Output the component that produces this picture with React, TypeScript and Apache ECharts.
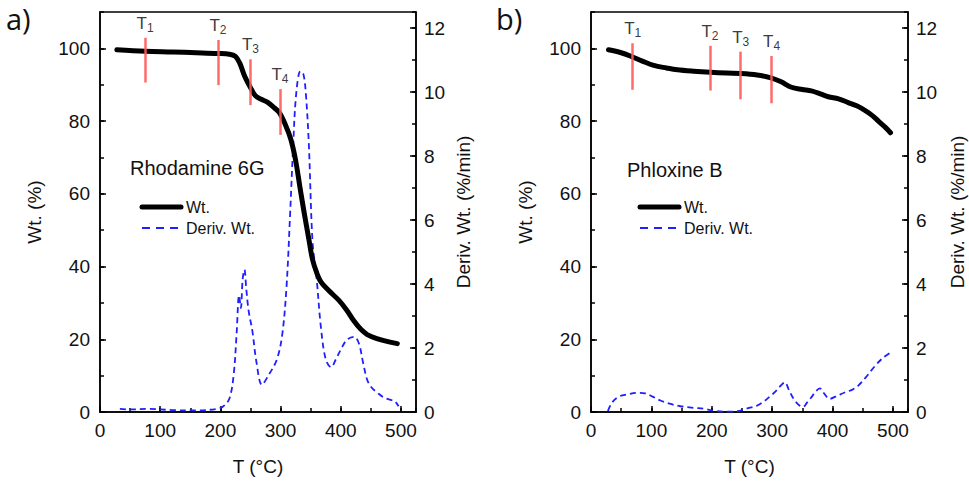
import React, { useEffect, useRef } from "react";
import * as echarts from "echarts";

// ---- data (T in °C) ----
const rhodamineWt: [number, number][] = [
  [28, 99.6], [75, 99.2], [120, 99.0], [160, 98.8], [196, 98.6], [215, 98.4], [225, 97.8],
  [232, 96.0], [240, 92.5], [250, 89.2], [258, 87.0], [268, 86.0], [278, 85.2], [290, 83.6],
  [298, 82.3], [308, 79.0], [317, 75.0], [325, 69.2], [332, 62.0], [339, 55.0], [347, 47.5],
  [353, 42.0], [360, 38.3], [367, 35.8], [380, 33.4], [397, 30.7], [410, 28.0], [422, 25.0],
  [433, 22.8], [444, 21.3], [460, 20.2], [480, 19.3], [494, 18.8],
];
const rhodamineDeriv: [number, number][] = [
  [33, 0.1], [50, 0.08], [80, 0.1], [120, 0.06], [160, 0.05], [195, 0.1], [205, 0.18],
  [215, 0.42], [222, 1.15], [227, 2.45], [231, 3.65], [234, 3.25], [237, 4.15], [240, 4.45],
  [243, 3.85], [247, 3.15], [253, 2.55], [260, 1.55], [269, 0.85], [280, 1.15], [294, 1.65],
  [303, 2.45], [310, 3.95], [316, 6.25], [321, 8.35], [326, 9.95], [333, 10.65], [338, 10.55],
  [342, 9.95], [347, 8.35], [353, 5.35], [360, 4.15], [367, 2.65], [375, 1.65], [384, 1.4],
  [392, 1.65], [400, 1.95], [410, 2.25], [422, 2.35], [430, 2.15], [437, 1.55], [444, 1.0],
  [452, 0.75], [461, 0.6], [472, 0.45], [483, 0.38], [490, 0.33], [496, 0.18],
];
const phloxineWt: [number, number][] = [
  [29, 99.6], [50, 98.8], [68, 97.7], [85, 96.5], [104, 95.3], [125, 94.6], [143, 94.1],
  [170, 93.7], [198, 93.4], [225, 93.2], [248, 93.1], [275, 92.7], [298, 91.9], [315, 90.8],
  [332, 89.3], [350, 88.7], [365, 88.3], [380, 87.5], [393, 86.7], [410, 86.1], [426, 85.1],
  [440, 84.2], [453, 83.0], [466, 81.5], [476, 80.0], [488, 78.2], [496, 76.8],
];
const phloxineDeriv: [number, number][] = [
  [28, 0.03], [35, 0.3], [46, 0.48], [60, 0.55], [76, 0.6], [90, 0.58], [102, 0.48],
  [115, 0.36], [130, 0.26], [148, 0.18], [170, 0.13], [187, 0.1], [204, 0.04], [220, 0.01],
  [240, 0.02], [260, 0.12], [275, 0.2], [287, 0.34], [297, 0.5], [304, 0.61], [314, 0.82],
  [321, 0.93], [328, 0.68], [335, 0.43], [343, 0.24], [351, 0.16], [358, 0.3], [365, 0.46],
  [372, 0.64], [379, 0.74], [386, 0.58], [395, 0.41], [405, 0.48], [420, 0.61], [433, 0.7],
  [443, 0.83], [455, 1.08], [470, 1.43], [484, 1.7], [496, 1.86],
];
// onset markers: subscript, temperature, top and bottom of the red bar (Wt. %)
const rhodamineMarkers = [
  { sub: "1", T: 75, top: 102.9, bottom: 90.6 },
  { sub: "2", T: 196, top: 102.3, bottom: 89.9 },
  { sub: "3", T: 250, top: 97.0, bottom: 84.4 },
  { sub: "4", T: 299, top: 88.8, bottom: 76.2 },
];
const phloxineMarkers = [
  { sub: "1", T: 69, top: 101.4, bottom: 88.6 },
  { sub: "2", T: 197, top: 100.7, bottom: 88.4 },
  { sub: "3", T: 248, top: 99.1, bottom: 86.0 },
  { sub: "4", T: 299, top: 97.9, bottom: 84.9 },
];
const seriesNames = ["Wt.", "Deriv. Wt."];
const panelLetters = ["a)", "b)"];
const sampleNames = ["Rhodamine 6G", "Phloxine B"];

const FONT = "Liberation Sans, Arial, Helvetica, sans-serif";
const WT_COLOR = "#000";
const DERIV_COLOR = "#1f1fff";
const DERIV_DASH = [6, 4];

const App: React.FC = () => {
  const ref = useRef<HTMLDivElement>(null);
  useEffect(() => {
    if (!ref.current) return;
    const chart = echarts.init(ref.current, undefined, { renderer: "svg" });

    const gridRects = [
      { left: 100, top: 12, width: 316, height: 400 },
      { left: 591, top: 12, width: 317, height: 400 },
    ];
    const grids: any[] = [];
    gridRects.forEach((r) =>
      grids.push({ ...r, show: true, borderColor: "#000", borderWidth: 1.5, backgroundColor: "transparent", containLabel: false })
    );
    gridRects.forEach((r) => grids.push({ ...r, show: false, containLabel: false }));

    const black = "#000";
    const mainX = (g: number) => ({
      type: "value", gridIndex: g, min: 0, max: 525, interval: 100, position: "bottom",
      axisLine: { onZero: false, lineStyle: { color: black, width: 1.5 } },
      axisTick: { inside: true, length: 6, lineStyle: { color: black, width: 1.5 } },
      axisLabel: { color: "#111", fontSize: 19, fontFamily: FONT, margin: 9, showMaxLabel: false },
      splitLine: { show: false },
      name: "T (°C)", nameLocation: "middle", nameGap: 45,
      nameTextStyle: { color: "#111", fontSize: 19, fontFamily: FONT },
    });
    const minorX = (g: number) => ({
      type: "value", gridIndex: g, min: 0, max: 525, interval: 50, position: "bottom",
      axisLine: { show: false, onZero: false },
      axisTick: { inside: true, length: 4, lineStyle: { color: black, width: 1.5 } },
      axisLabel: { show: false }, splitLine: { show: false },
    });
    const leftY = (g: number, interval: number, len: number, labels: boolean) => ({
      type: "value", gridIndex: g, min: 0, max: 110, interval, position: "left",
      axisLine: { show: labels, onZero: false, lineStyle: { color: black, width: 1.5 } },
      axisTick: { inside: true, length: len, lineStyle: { color: black, width: 1.5 } },
      axisLabel: { show: labels, color: "#111", fontSize: 19, fontFamily: FONT, margin: 10, showMaxLabel: false },
      splitLine: { show: false },
      ...(labels
        ? { name: "Wt. (%)", nameLocation: "middle", nameGap: 56, nameRotate: 90,
            nameTextStyle: { color: "#111", fontSize: 19, fontFamily: FONT } }
        : {}),
    });
    const rightY = (g: number, interval: number, len: number, labels: boolean, gap: number) => ({
      type: "value", gridIndex: g, min: 0, max: 12.5, interval, position: "right",
      axisLine: { show: labels, onZero: false, lineStyle: { color: black, width: 1.5 } },
      axisTick: { inside: true, length: len, lineStyle: { color: black, width: 1.5 } },
      axisLabel: { show: labels, color: "#111", fontSize: 19, fontFamily: FONT, margin: 8, showMaxLabel: false },
      splitLine: { show: false },
      ...(labels
        ? { name: "Deriv. Wt. (%/min)", nameLocation: "middle", nameGap: gap, nameRotate: 90,
            nameTextStyle: { color: "#111", fontSize: 19, fontFamily: FONT } }
        : {}),
    });

    const xAxis = [mainX(0), mainX(1), minorX(2), minorX(3)];
    const yAxis = [
      leftY(0, 20, 6, true), rightY(0, 2, 6, true, 38),
      leftY(1, 20, 6, true), rightY(1, 2, 6, true, 40),
      leftY(2, 10, 4, false), rightY(2, 1, 4, false, 0),
      leftY(3, 10, 4, false), rightY(3, 1, 4, false, 0),
    ];

    const markLine = (markers: typeof rhodamineMarkers) => ({
      silent: true,
      symbol: ["none", "none"],
      animation: false,
      lineStyle: { color: "#ff5b5b", width: 2.5, type: "solid", opacity: 0.9 },
      label: {
        show: true, position: "start", distance: 4,
        formatter: (p: any) => `T{s|${p.data.sub}}`,
        color: "#222", fontSize: 17, fontFamily: FONT,
        rich: { s: { fontSize: 12, fontFamily: FONT, color: "#222", verticalAlign: "bottom", padding: [9, 0, 0, 0] } },
      },
      data: markers.map((m) => [
        { coord: [m.T, m.top], sub: m.sub },
        { coord: [m.T, m.bottom] },
      ]),
    });

    const wtSeries = (data: [number, number][], xi: number, yi: number, markers: typeof rhodamineMarkers) => ({
      name: seriesNames[0], type: "line", xAxisIndex: xi, yAxisIndex: yi, data,
      showSymbol: false, symbol: "none", smooth: 0.35,
      lineStyle: { color: WT_COLOR, width: 5, cap: "round", join: "round" },
      itemStyle: { color: WT_COLOR },
      markLine: markLine(markers),
      z: 3,
    });
    const derivSeries = (data: [number, number][], xi: number, yi: number) => ({
      name: seriesNames[1], type: "line", xAxisIndex: xi, yAxisIndex: yi, data,
      showSymbol: false, symbol: "none", smooth: 0.35,
      lineStyle: { color: DERIV_COLOR, width: 1.8, type: DERIV_DASH },
      itemStyle: { color: DERIV_COLOR },
      z: 2,
    });

    // hand-drawn legend (line samples + labels) for each panel
    const legendGraphics = (left: number) => [
      { type: "line", shape: { x1: left, y1: 207, x2: left + 39, y2: 207 },
        style: { stroke: WT_COLOR, lineWidth: 5, lineCap: "round" } },
      { type: "line", shape: { x1: left, y1: 228, x2: left + 39, y2: 228 },
        style: { stroke: DERIV_COLOR, lineWidth: 1.8, lineDash: [8, 6] } },
      { type: "text", x: left + 44, y: 207,
        style: { text: seriesNames[0], fontSize: 16, fontFamily: FONT, fill: "#111", verticalAlign: "middle" } },
      { type: "text", x: left + 44, y: 228,
        style: { text: seriesNames[1], fontSize: 16, fontFamily: FONT, fill: "#111", verticalAlign: "middle" } },
    ];

    chart.setOption({
      animation: false,
      backgroundColor: "#fff",
      grid: grids,
      xAxis,
      yAxis,
      series: [
        derivSeries(rhodamineDeriv, 0, 1),
        wtSeries(rhodamineWt, 0, 0, rhodamineMarkers),
        derivSeries(phloxineDeriv, 1, 3),
        wtSeries(phloxineWt, 1, 2, phloxineMarkers),
      ],
      graphic: [
        { type: "text", left: 6, top: 4, style: { text: panelLetters[0], fontSize: 29, fontFamily: "'Open Sans', sans-serif", fill: "#111" } },
        { type: "text", left: 496, top: 4, style: { text: panelLetters[1], fontSize: 29, fontFamily: "'Open Sans', sans-serif", fill: "#111" } },
        { type: "text", left: 130, top: 158, style: { text: sampleNames[0], fontSize: 20, fontFamily: FONT, fill: "#111" } },
        { type: "text", left: 627, top: 160, style: { text: sampleNames[1], fontSize: 20, fontFamily: FONT, fill: "#111" } },
        ...legendGraphics(142),
        ...legendGraphics(640),
      ],
    });
    return () => chart.dispose();
  }, []);
  return <div ref={ref} style={{ position: "absolute", left: 0, top: 0, width: 969, height: 481 }} />;
};

export default App;
